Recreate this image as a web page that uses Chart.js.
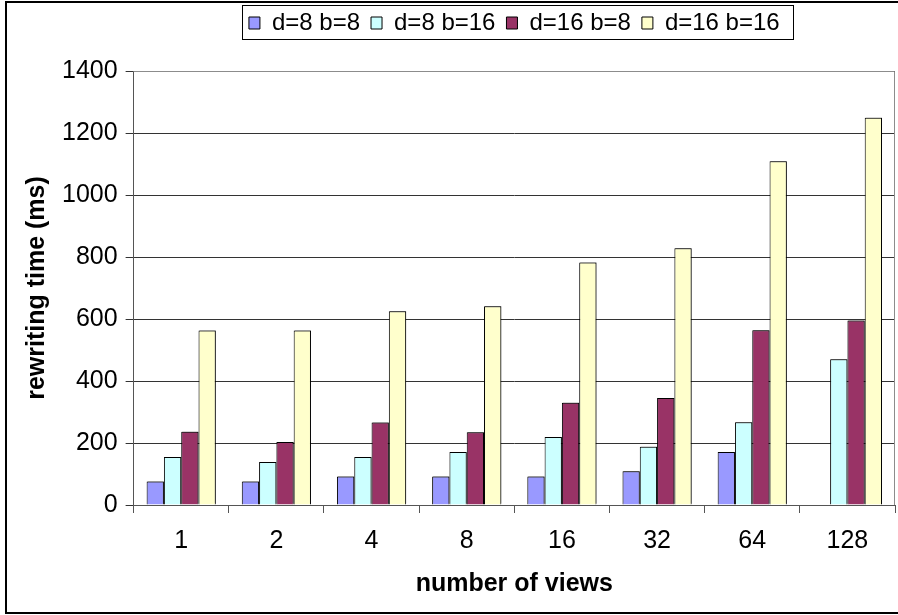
<!DOCTYPE html>
<html>
<head>
<meta charset="utf-8">
<script src="https://cdn.jsdelivr.net/npm/chart.js@4/dist/chart.umd.min.js"></script>
<style>
  html, body { margin: 0; padding: 0; background: #fff; }
  canvas { display: block; }
</style>
</head>
<body>
<canvas id="c" width="898" height="615"></canvas>
<script>
const categories = ['1', '2', '4', '8', '16', '32', '64', '128'];
const seriesNames = ['d=8 b=8', 'd=8 b=16', 'd=16 b=8', 'd=16 b=16'];
const d8b8   = [76, 76, 92, 92, 92, 109, 171, null];
const d8b16  = [155, 139, 155, 171, 219, 188, 267, 470];
const d16b8  = [236, 203, 266, 235, 330, 345, 564, 595];
const d16b16 = [563, 563, 625, 641, 782, 828, 1109, 1249];
const yTicks = [0, 200, 400, 600, 800, 1000, 1200, 1400];
const xTitle = 'number of views';
const yTitle = 'rewriting time (ms)';

const colors = ['#9999FF', '#CCFFFF', '#993366', '#FFFFCC'];
const seriesData = [d8b8, d8b16, d16b8, d16b16];
const FONT = "'Liberation Sans', Arial, sans-serif";

const legendSpacer = {
  id: 'legendSpacer',
  beforeInit(chart) {
    const orig = chart.legend.fit;
    chart.legend.fit = function () {
      orig.call(chart.legend);
      this.height += 26;
    };
  }
};

const frames = {
  id: 'frames',
  beforeDatasetsDraw(chart) {
    const {ctx, chartArea: a} = chart;
    ctx.save();
    ctx.strokeStyle = '#8c8c8c';
    ctx.lineWidth = 1;
    ctx.beginPath();
    ctx.moveTo(a.left, a.top + 0.5);
    ctx.lineTo(a.right - 0.5, a.top + 0.5);
    ctx.lineTo(a.right - 0.5, a.bottom);
    ctx.stroke();
    ctx.restore();
    ctx.save();
    ctx.shadowColor = 'rgba(0,0,0,0.45)';
    ctx.shadowOffsetX = 1;
    ctx.shadowOffsetY = -1;
    ctx.shadowBlur = 0;
  },
  afterDatasetsDraw(chart) {
    chart.ctx.restore();
  },
  afterDraw(chart) {
    const {ctx} = chart;
    const lg = chart.legend;
    const hb = lg.legendHitBoxes;
    if (hb && hb.length) {
      let l = Infinity, r = -Infinity, t = Infinity, b = -Infinity;
      hb.forEach(h => {
        l = Math.min(l, h.left); r = Math.max(r, h.left + h.width);
        t = Math.min(t, h.top); b = Math.max(b, h.top + h.height);
      });
      ctx.save();
      ctx.strokeStyle = '#000';
      ctx.lineWidth = 1;
      ctx.strokeRect(Math.round(l - 7) + 0.5, Math.round(t - 6) + 0.5, Math.round(r - l + 20), Math.round(b - t + 10));
      ctx.restore();
    }
    ctx.save();
    ctx.strokeStyle = '#000';
    ctx.lineWidth = 2;
    ctx.strokeRect(6, 2, chart.width + 10, chart.height - 4);
    ctx.restore();
  }
};

new Chart(document.getElementById('c'), {
  type: 'bar',
  data: {
    labels: categories,
    datasets: seriesNames.map((name, i) => ({
      label: name,
      data: seriesData[i],
      backgroundColor: colors[i],
      borderColor: '#000',
      borderWidth: 1,
      categoryPercentage: 0.727,
      barPercentage: 1.0
    }))
  },
  options: {
    responsive: false,
    animation: false,
    devicePixelRatio: 1,
    layout: { padding: { top: 0, left: 12, right: 3, bottom: 12 } },
    plugins: {
      legend: {
        position: 'top',
        fullSize: false,
        labels: {
          font: { family: FONT, size: 24 },
          color: '#000',
          boxWidth: 11,
          boxHeight: 12,
          padding: 11
        }
      },
      tooltip: { enabled: false }
    },
    scales: {
      x: {
        grid: {
          display: true,
          drawOnChartArea: false,
          drawTicks: true,
          tickLength: 8,
          offset: true,
          color: '#555'
        },
        border: { display: true, color: '#555', width: 1 },
        ticks: {
          font: { family: FONT, size: 25 },
          color: '#000',
          padding: 13
        },
        title: {
          display: true,
          text: xTitle,
          font: { family: FONT, size: 25, weight: 'bold' },
          color: '#000',
          padding: { top: 0, bottom: 4 }
        }
      },
      y: {
        min: 0,
        max: 1400,
        afterBuildTicks(scale) { scale.ticks = yTicks.map(v => ({ value: v })); },
        grid: {
          color: '#333',
          tickLength: 8,
          drawTicks: true
        },
        border: { display: true, color: '#555', width: 1 },
        ticks: {
          font: { family: FONT, size: 25 },
          color: '#000',
          padding: 8,
          callback: v => String(v)
        },
        title: {
          display: true,
          text: yTitle,
          font: { family: FONT, size: 25, weight: 'bold' },
          color: '#000',
          padding: { top: 10, bottom: 2 }
        }
      }
    }
  },
  plugins: [legendSpacer, frames]
});
</script>
</body>
</html>
